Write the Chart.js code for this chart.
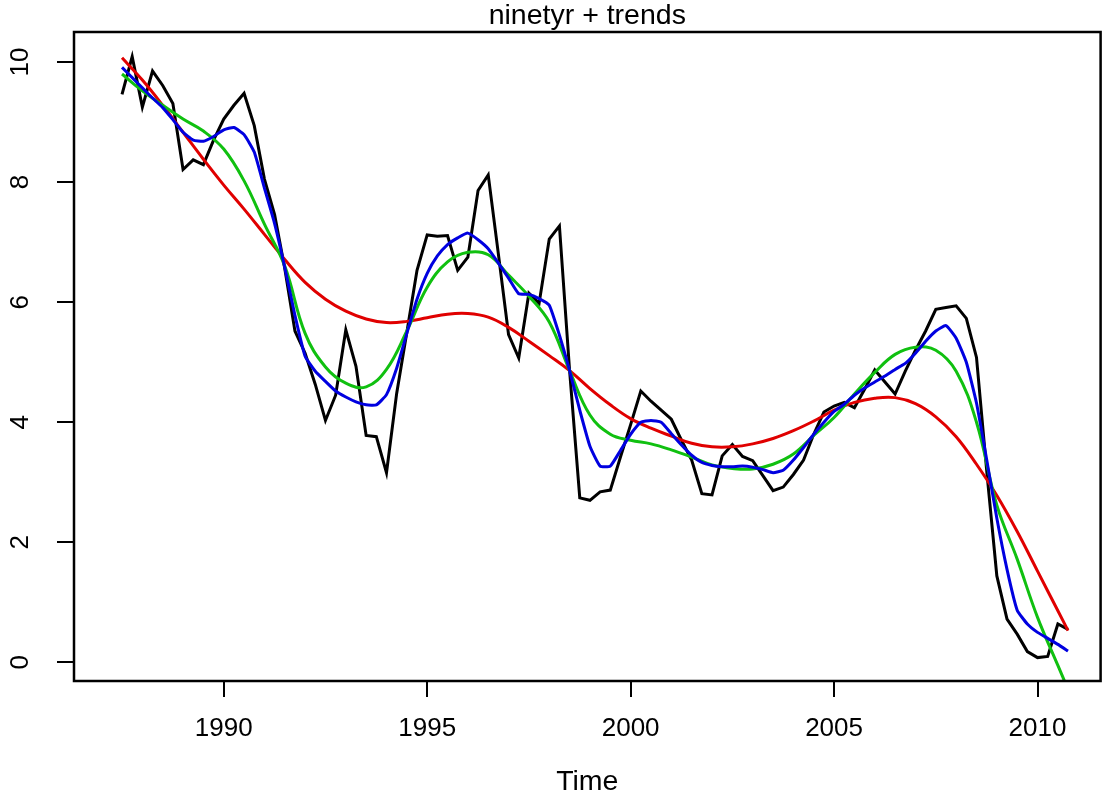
<!DOCTYPE html>
<html>
<head>
<meta charset="utf-8">
<title>ninetyr + trends</title>
<script src="https://cdn.jsdelivr.net/npm/chart.js"></script>
<style>
  html, body { margin: 0; padding: 0; background: #fff; }
  canvas { display: block; }
</style>
</head>
<body>
<canvas id="chart" width="1102" height="803"></canvas>
<script>
// quarterly series, starts 1987 Q3
const startYear = 1987.5;
const freq = 4;

const ninetyr = [
  9.46, 10.09, 9.25, 9.85, 9.61, 9.31, 8.21, 8.37, 8.29, 8.70,
  9.05, 9.28, 9.48, 8.94, 8.05, 7.46, 6.56, 5.52, 5.15, 4.63,
  4.03, 4.45, 5.54, 4.93, 3.78, 3.76, 3.16, 4.48, 5.50, 6.53,
  7.12, 7.10, 7.11, 6.53, 6.75, 7.86, 8.12, 6.80, 5.46, 5.07,
  6.15, 5.98, 7.05, 7.27, 4.86, 2.74, 2.70, 2.84, 2.87, 3.42,
  3.96, 4.52, 4.35, 4.20, 4.05, 3.70, 3.37, 2.81, 2.79, 3.44,
  3.63, 3.43, 3.36, 3.11, 2.86, 2.92, 3.13, 3.37, 3.80, 4.17,
  4.27, 4.33, 4.24, 4.55, 4.87, 4.67, 4.47, 4.85, 5.20, 5.52,
  5.88, 5.91, 5.94, 5.73, 5.08, 3.20, 1.44, 0.72, 0.47, 0.18,
  0.08, 0.10, 0.64, 0.55
];

// blue trend, same quarterly index
const blueTrend = [
  9.91, 9.74, 9.57, 9.40, 9.24, 9.04, 8.83, 8.70, 8.68, 8.76,
  8.87, 8.91, 8.79, 8.50, 7.90, 7.31, 6.58, 5.78, 5.10, 4.85,
  4.68, 4.52, 4.42, 4.34, 4.29, 4.29, 4.46, 4.90, 5.48, 6.05,
  6.48, 6.77, 6.96, 7.07, 7.15, 7.04, 6.89, 6.65, 6.40, 6.14,
  6.13, 6.06, 5.95, 5.45, 4.86, 4.20, 3.60, 3.27, 3.27, 3.53,
  3.80, 4.00, 4.03, 4.00, 3.81, 3.62, 3.45, 3.33, 3.28, 3.26,
  3.26, 3.27, 3.25, 3.21, 3.16, 3.20, 3.37, 3.58, 3.80, 4.00,
  4.18, 4.30, 4.45, 4.57, 4.67, 4.77, 4.88, 4.98, 5.15, 5.35,
  5.52, 5.61, 5.40, 5.00, 4.32, 3.38, 2.40, 1.55, 0.87, 0.64,
  0.50, 0.40, 0.30, 0.19
];

// smooth trends read every half year
const halfYears = [
  1987.5, 1988, 1988.5, 1989, 1989.5, 1990, 1990.5, 1991, 1991.5, 1992,
  1992.5, 1993, 1993.5, 1994, 1994.5, 1995, 1995.5, 1996, 1996.5, 1997,
  1997.5, 1998, 1998.5, 1999, 1999.5, 2000, 2000.5, 2001, 2001.5, 2002,
  2002.5, 2003, 2003.5, 2004, 2004.5, 2005, 2005.5, 2006, 2006.5, 2007,
  2007.5, 2008, 2008.5, 2009, 2009.5, 2010, 2010.5, 2010.75
];

const redTrend = [
  10.07, 9.70, 9.28, 8.83, 8.38, 7.95, 7.55, 7.13, 6.71, 6.33,
  6.05, 5.85, 5.72, 5.66, 5.68, 5.74, 5.80, 5.81, 5.75, 5.58,
  5.35, 5.11, 4.86, 4.56, 4.29, 4.06, 3.90, 3.77, 3.65, 3.59,
  3.59, 3.64, 3.73, 3.86, 4.02, 4.20, 4.33, 4.40, 4.41, 4.31,
  4.09, 3.76, 3.30, 2.78, 2.18, 1.52, 0.86, 0.53
];

const greenTrend = [
  9.80, 9.52, 9.28, 9.05, 8.85, 8.55, 8.02, 7.30, 6.60, 5.48,
  4.92, 4.65, 4.59, 4.88, 5.52, 6.25, 6.67, 6.83, 6.79, 6.45,
  6.10, 5.67, 4.86, 4.12, 3.80, 3.70, 3.64, 3.54, 3.42, 3.29,
  3.23, 3.22, 3.30, 3.47, 3.78, 4.08, 4.47, 4.83, 5.13, 5.25,
  5.20, 4.85, 4.00, 2.62, 1.72, 0.75, -0.05, -0.45
];

const xTicks = [1990, 1995, 2000, 2005, 2010];
const yTicks = [0, 2, 4, 6, 8, 10];

const quarterly = vals => vals.map((v, i) => ({ x: startYear + i / freq, y: v }));
const halfYearly = vals => vals.map((v, i) => ({ x: halfYears[i], y: v }));

const FAMILY = "'Liberation Sans', Arial, sans-serif";
const TICK_FONT = { family: FAMILY, size: 26, weight: 'normal' };
const TITLE_FONT = { family: FAMILY, size: 28.5, weight: 'normal', lineHeight: '31px' };

const boxPlugin = {
  id: 'box',
  afterDatasetsDraw(chart) {
    const { ctx, chartArea: a } = chart;
    ctx.save();
    ctx.strokeStyle = '#000';
    ctx.lineWidth = 2.5;
    ctx.strokeRect(a.left, a.top, a.right - a.left, a.bottom - a.top);
    ctx.restore();
  }
};

const line = (data, color, order, tension) => ({
  data,
  borderColor: color,
  borderWidth: 3,
  pointRadius: 0,
  fill: false,
  tension,
  order
});

new Chart(document.getElementById('chart'), {
  type: 'line',
  data: {
    datasets: [
      line(quarterly(ninetyr), '#000000', 4, 0),
      line(halfYearly(redTrend), '#e00000', 3, 0.4),
      line(halfYearly(greenTrend), '#10c010', 2, 0.4),
      line(quarterly(blueTrend), '#0000e0', 1, 0.15)
    ]
  },
  plugins: [boxPlugin],
  options: {
    responsive: false,
    animation: false,
    devicePixelRatio: 1,
    layout: { padding: { left: 0, right: 1.4, top: 0, bottom: 0 } },
    plugins: {
      legend: { display: false },
      tooltip: { enabled: false },
      title: {
        display: true,
        text: 'ninetyr + trends',
        color: '#000',
        font: TITLE_FONT,
        fullSize: false,
        padding: { top: 1, bottom: 0 }
      }
    },
    scales: {
      x: {
        type: 'linear',
        min: 1986.32,
        max: 2011.55,
        afterBuildTicks: s => { s.ticks = xTicks.map(v => ({ value: v })); },
        afterFit: s => { s.height = 122; s.paddingLeft = 0; s.paddingRight = 0; },
        border: { display: false },
        grid: { drawOnChartArea: false, tickLength: 16, color: '#000', lineWidth: 2 },
        ticks: { color: '#000', font: TICK_FONT, padding: 16, maxRotation: 0, callback: v => String(v) },
        title: { display: true, text: 'Time', color: '#000', font: { family: FAMILY, size: 28.5 }, padding: { top: 0, bottom: 4 } }
      },
      y: {
        min: -0.31,
        max: 10.5,
        afterBuildTicks: s => { s.ticks = yTicks.map(v => ({ value: v })); },
        afterFit: s => { s.width = 74; s.paddingTop = 0; s.paddingBottom = 0; },
        border: { display: false },
        grid: { drawOnChartArea: false, tickLength: 17, color: '#000', lineWidth: 2 },
        ticks: { color: '#000', font: TICK_FONT, padding: 22, minRotation: 90, maxRotation: 90, crossAlign: 'center', callback: v => String(v) }
      }
    }
  }
});
</script>
</body>
</html>
